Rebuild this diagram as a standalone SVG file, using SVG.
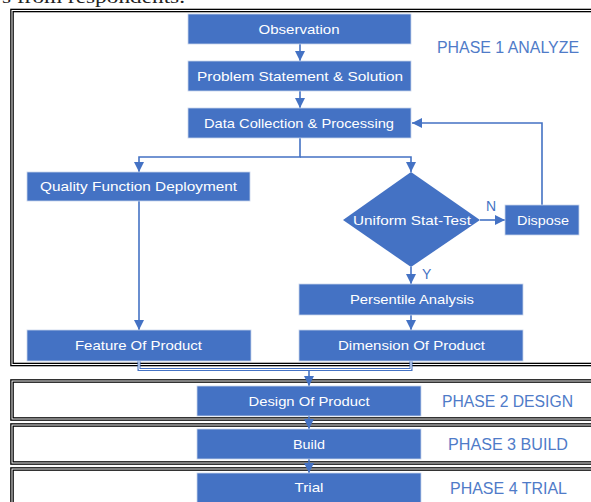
<svg xmlns="http://www.w3.org/2000/svg" width="591" height="502" viewBox="0 0 591 502">
<style>
.frame{fill:none;stroke:#000;stroke-width:3.6}
.frameIn{fill:none;stroke:#fff;stroke-width:1}
.box{fill:#4472C4;stroke:#c8d4ea;stroke-width:0.8}
.lbl{font-family:"Liberation Sans",Arial,sans-serif;font-size:13px;fill:#fff;text-anchor:middle}
.ph{font-family:"Liberation Sans",Arial,sans-serif;font-size:16px;fill:#4F7BC8}
.yn{font-family:"Liberation Sans",Arial,sans-serif;font-size:14px;fill:#4472C4}
.con{fill:none;stroke:#4472C4;stroke-width:1.6}
.merge{fill:none;stroke:#4472C4;stroke-width:3}
.mergeIn{fill:none;stroke:#fff;stroke-width:1}
</style>
<defs>
<marker id="ah" viewBox="0 0 10 10" refX="10" refY="5" markerWidth="10" markerHeight="10" markerUnits="userSpaceOnUse" orient="auto">
<path d="M0,0 L10,5 L0,10 z" fill="#4472C4"/>
</marker>
</defs>
<rect width="591" height="502" fill="#fff"/>
<text x="2" y="2.5" font-family="'Liberation Serif',serif" font-size="18" fill="#222" textLength="183" lengthAdjust="spacingAndGlyphs">s from respondents.</text>

<g id="frames">
<rect class="frame" x="12" y="10.5" width="600" height="354"/>
<rect class="frameIn" x="12" y="10.5" width="600" height="354"/>
<rect class="frame" x="12" y="381" width="600" height="38"/>
<rect class="frameIn" x="12" y="381" width="600" height="38"/>
<rect class="frame" x="12" y="425" width="600" height="38"/>
<rect class="frameIn" x="12" y="425" width="600" height="38"/>
<rect class="frame" x="12" y="469" width="600" height="60"/>
<rect class="frameIn" x="12" y="469" width="600" height="60"/>
</g>

<g id="phase-labels">
<text class="ph" x="437" y="53" textLength="142" lengthAdjust="spacingAndGlyphs">PHASE 1 ANALYZE</text>
<text class="ph" x="442" y="407" textLength="131" lengthAdjust="spacingAndGlyphs">PHASE 2 DESIGN</text>
<text class="ph" x="448" y="450" textLength="120" lengthAdjust="spacingAndGlyphs">PHASE 3 BUILD</text>
<text class="ph" x="450" y="494" textLength="117" lengthAdjust="spacingAndGlyphs">PHASE 4 TRIAL</text>
</g>

<g id="connectors">
<path class="con" d="M300,44 V61" marker-end="url(#ah)"/>
<path class="con" d="M300,91 V108" marker-end="url(#ah)"/>
<path class="con" d="M300,138 V157 H139 V172" marker-end="url(#ah)"/>
<path class="con" d="M300,157 H411 V172" marker-end="url(#ah)"/>
<path class="con" d="M139,200 V330" marker-end="url(#ah)"/>
<path class="con" d="M480,220 H505" marker-end="url(#ah)"/>
<path class="con" d="M542,205 V123 H412" marker-end="url(#ah)"/>
<path class="con" d="M411,267 V284" marker-end="url(#ah)"/>
<path class="con" d="M411,315 V330" marker-end="url(#ah)"/>
<path class="merge" d="M139,361 V369.5 H411 V361"/>
<path class="mergeIn" d="M139,361 V369.5 H411 V361"/>
<path class="con" d="M309,371 V386" marker-end="url(#ah)"/>
<path class="con" d="M309,416 V429" marker-end="url(#ah)"/>
<path class="con" d="M309,459 V473" marker-end="url(#ah)"/>
<text class="yn" x="486" y="211">N</text>
<text class="yn" x="422" y="279">Y</text>
</g>

<g id="observation"><rect class="box" x="188" y="14" width="223" height="30"/><text class="lbl" x="299" y="33.5" textLength="81" lengthAdjust="spacingAndGlyphs">Observation</text></g>
<g id="problem"><rect class="box" x="188" y="61" width="223" height="30"/><text class="lbl" x="300" y="80.5" textLength="206" lengthAdjust="spacingAndGlyphs">Problem Statement &amp; Solution</text></g>
<g id="data"><rect class="box" x="188" y="108" width="223" height="30"/><text class="lbl" x="299" y="127.5" textLength="190" lengthAdjust="spacingAndGlyphs">Data Collection &amp; Processing</text></g>
<g id="qfd"><rect class="box" x="27" y="172" width="223" height="29"/><text class="lbl" x="138.5" y="190.5" textLength="197" lengthAdjust="spacingAndGlyphs">Quality Function Deployment</text></g>
<g id="stattest"><path d="M411,172 L480,220 L411,267 L343,220 z" fill="#4472C4"/><text class="lbl" x="412" y="224.5" textLength="118" lengthAdjust="spacingAndGlyphs">Uniform Stat-Test</text></g>
<g id="dispose"><rect class="box" x="505" y="205" width="74" height="30"/><text class="lbl" x="543" y="224.5" textLength="52" lengthAdjust="spacingAndGlyphs">Dispose</text></g>
<g id="persentile"><rect class="box" x="299" y="284" width="224" height="31"/><text class="lbl" x="412" y="304" textLength="124" lengthAdjust="spacingAndGlyphs">Persentile Analysis</text></g>
<g id="feature"><rect class="box" x="27" y="330" width="224" height="31"/><text class="lbl" x="138.5" y="350" textLength="127" lengthAdjust="spacingAndGlyphs">Feature Of Product</text></g>
<g id="dimension"><rect class="box" x="299" y="330" width="224" height="31"/><text class="lbl" x="411.5" y="350" textLength="147" lengthAdjust="spacingAndGlyphs">Dimension Of Product</text></g>
<g id="design"><rect class="box" x="197" y="386" width="224" height="30"/><text class="lbl" x="309" y="405.5" textLength="121" lengthAdjust="spacingAndGlyphs">Design Of Product</text></g>
<g id="build"><rect class="box" x="197" y="429" width="224" height="30"/><text class="lbl" x="309" y="448.5" textLength="32" lengthAdjust="spacingAndGlyphs">Build</text></g>
<g id="trial"><rect class="box" x="197" y="473" width="224" height="40"/><text class="lbl" x="309" y="492" textLength="29" lengthAdjust="spacingAndGlyphs">Trial</text></g>
</svg>
